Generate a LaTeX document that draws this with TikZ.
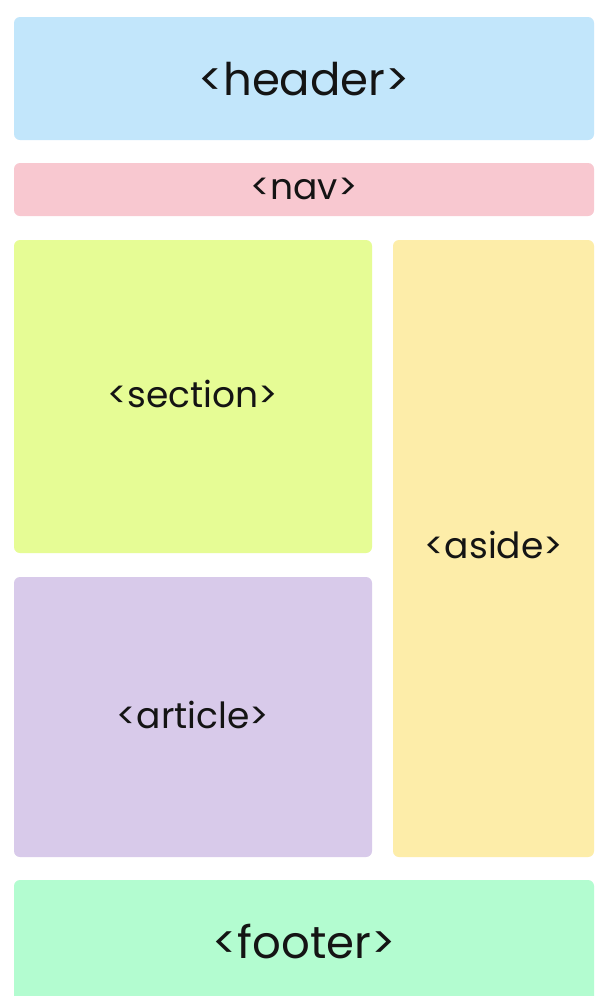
\documentclass[tikz,border=0pt]{standalone}
\usepackage{fontspec}
\setmainfont{Poppins}
\definecolor{chead}{HTML}{C2E6FB}
\definecolor{cnav}{HTML}{F8C8D0}
\definecolor{csec}{HTML}{E6FC95}
\definecolor{caside}{HTML}{FDEDA9}
\definecolor{cart}{HTML}{D8CAEA}
\definecolor{cfoot}{HTML}{B3FCD0}
\definecolor{ctext}{HTML}{141414}
\begin{document}
\begin{tikzpicture}[x=1pt,y=-1pt,
  blk/.style={rounded corners=6pt},
  lbl/.style={text=ctext,inner sep=0pt,font=\fontsize{36}{40}\selectfont},
  biglbl/.style={text=ctext,inner sep=0pt,font=\fontsize{45}{50}\selectfont}]
\useasboundingbox[fill=white] (0,0) rectangle (597,996);
\fill[blk,chead] (14,17) rectangle (594,140);
\fill[blk,cnav] (14,163) rectangle (594,216);
\fill[blk,csec] (14,240) rectangle (372,553);
\fill[blk,caside] (393,240) rectangle (594,857);
\fill[blk,cart] (14,577) rectangle (372,857);
\begin{scope}
\clip (0,0) rectangle (597,996);
\fill[blk,cfoot] (14,880) rectangle (594,1010);
\end{scope}
\node[biglbl] (header) at (304,79) {<header>};
\node[lbl] (nav) at (304,189) {<nav>};
\node[lbl] (section) at (193,394) {<section>};
\node[lbl] (aside) at (494,545) {<aside>};
\node[lbl] (article) at (193,715) {<article>};
\node[biglbl] (footer) at (304,941) {<footer>};
\end{tikzpicture}
\end{document}
